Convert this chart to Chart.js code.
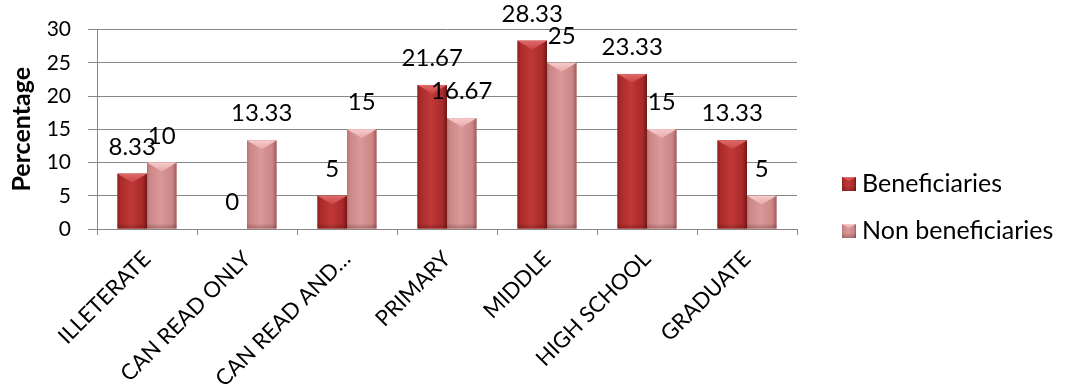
<!DOCTYPE html>
<html>
<head>
<meta charset="utf-8">
<script src="https://cdn.jsdelivr.net/npm/chart.js@4.4.1/dist/chart.umd.min.js"></script>
<style>
  html, body { margin: 0; background: #fff; }
  #wrap { width: 1070px; height: 388px; }
</style>
</head>
<body>
<div id="wrap"><canvas id="eduChart"></canvas></div>
<script>
const categories = ["ILLETERATE", "CAN READ ONLY", "CAN READ AND…", "PRIMARY", "MIDDLE", "HIGH SCHOOL", "GRADUATE"];
const beneficiaries = [8.33, 0, 5, 21.67, 28.33, 23.33, 13.33];
const nonBeneficiaries = [10, 13.33, 15, 16.67, 25, 15, 5];
const seriesNames = ["Beneficiaries", "Non beneficiaries"];
const yTicks = [0, 5, 10, 15, 20, 25, 30];

const GRID = "#868686";

// colours for the bevelled columns: edges, body, top face
const shades = [
  { edgeL: "#8e2020", side: "#a82a2a", mid: "#c03838", edgeR: "#731616", capTop: "#e06a6a", capBot: "#c84242" },
  { edgeL: "#b87474", side: "#cc8686", mid: "#da9898", edgeR: "#9e5c5c", capTop: "#f7cccc", capBot: "#e6a8a8" }
];

function shadeRect(ctx, l, top, w, bottom, s) {
  const h = bottom - top;
  if (h <= 0) return;
  const r = l + w, cx = l + w / 2;
  const g = ctx.createLinearGradient(l, 0, r, 0);
  g.addColorStop(0, s.edgeL);
  g.addColorStop(0.1, s.side);
  g.addColorStop(0.45, s.mid);
  g.addColorStop(0.85, s.side);
  g.addColorStop(1, s.edgeR);
  ctx.fillStyle = g;
  ctx.fillRect(l, top, w, h);
  // darker foot
  const fg = ctx.createLinearGradient(0, bottom - 5, 0, bottom);
  fg.addColorStop(0, "rgba(0,0,0,0)");
  fg.addColorStop(1, "rgba(60,0,0,0.25)");
  ctx.fillStyle = fg;
  ctx.fillRect(l, Math.max(top, bottom - 5), w, Math.min(5, h));
  // top face of the bevel
  const d = Math.min(w * 0.3, h);
  const cg = ctx.createLinearGradient(0, top, 0, top + d);
  cg.addColorStop(0, s.capTop);
  cg.addColorStop(1, s.capBot);
  ctx.beginPath();
  ctx.moveTo(l, top);
  ctx.lineTo(r, top);
  ctx.lineTo(cx, top + d);
  ctx.closePath();
  ctx.fillStyle = cg;
  ctx.fill();
}

const barShading = {
  id: "barShading",
  afterDatasetDraw(chart, args) {
    const ctx = chart.ctx;
    const s = shades[args.index];
    ctx.save();
    args.meta.data.forEach(bar => {
      const { x, y, base, width } = bar.getProps(["x", "y", "base", "width"], true);
      shadeRect(ctx, x - width / 2, y, width, base, s);
    });
    ctx.restore();
  }
};

const valueLabels = {
  id: "valueLabels",
  afterDatasetsDraw(chart) {
    const ctx = chart.ctx;
    ctx.save();
    ctx.font = "24px Lato";
    ctx.fillStyle = "#000";
    ctx.textAlign = "center";
    ctx.textBaseline = "alphabetic";
    chart.data.datasets.forEach((ds, i) => {
      chart.getDatasetMeta(i).data.forEach((bar, j) => {
        ctx.fillText(String(ds.data[j]), bar.x, bar.y - 19);
      });
    });
    ctx.restore();
  }
};

const sideLegend = {
  id: "sideLegend",
  afterDraw(chart) {
    const ctx = chart.ctx;
    ctx.save();
    ctx.font = "25px Lato";
    ctx.textBaseline = "middle";
    chart.data.datasets.forEach((ds, i) => {
      const cy = 184 + i * 47;
      shadeRect(ctx, 842, cy - 7, 14, cy + 7, shades[i]);
      ctx.fillStyle = "#000";
      ctx.fillText(ds.label, 862, cy);
    });
    ctx.restore();
  }
};

Chart.defaults.font.family = "Lato";
Chart.defaults.color = "#000";

new Chart(document.getElementById("eduChart"), {
  type: "bar",
  data: {
    labels: categories,
    datasets: [
      { label: seriesNames[0], data: beneficiaries, backgroundColor: shades[0].mid },
      { label: seriesNames[1], data: nonBeneficiaries, backgroundColor: shades[1].mid }
    ]
  },
  options: {
    responsive: true,
    maintainAspectRatio: false,
    devicePixelRatio: 1,
    animation: false,
    datasets: { bar: { categoryPercentage: 0.59, barPercentage: 1.0 } },
    layout: { padding: { left: 0, right: 273, top: 29, bottom: 0 } },
    plugins: { legend: { display: false }, tooltip: { enabled: false } },
    scales: {
      x: {
        offset: true,
        grid: { offset: true, drawOnChartArea: false, tickLength: 6, color: GRID },
        border: { color: GRID },
        ticks: { minRotation: 45, maxRotation: 45, autoSkip: false, padding: 11, font: { size: 22 } },
        afterFit: s => { s.height = 159; }
      },
      y: {
        min: yTicks[0],
        max: yTicks[yTicks.length - 1],
        grid: { color: GRID, tickLength: 9 },
        border: { color: GRID },
        ticks: { stepSize: yTicks[1] - yTicks[0], padding: 17, font: { size: 21 } },
        title: { display: true, text: "Percentage", font: { size: 25, weight: "bold" }, padding: { top: 7, bottom: 0 } },
        afterFit: s => { s.width = 97; }
      }
    }
  },
  plugins: [barShading, valueLabels, sideLegend]
});
</script>
</body>
</html>
